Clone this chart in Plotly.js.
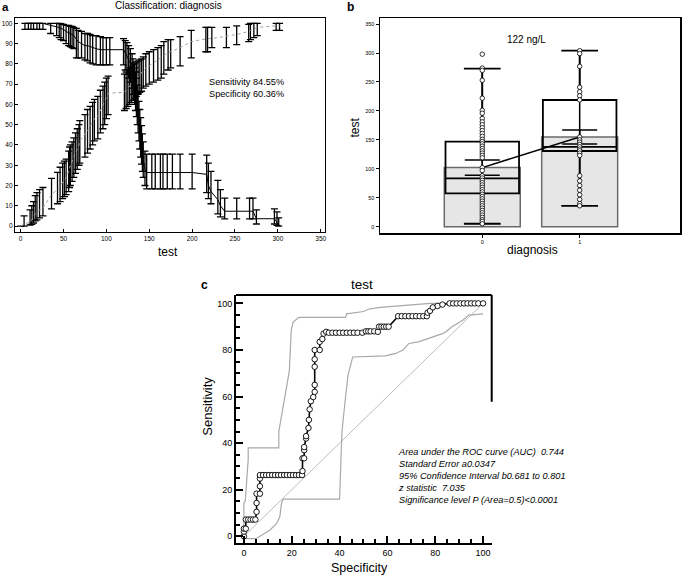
<!DOCTYPE html>
<html><head><meta charset="utf-8">
<script src="https://cdn.plot.ly/plotly-3.0.1.min.js"></script>
<style>html,body{margin:0;padding:0;background:#fff}</style>
</head><body><div id="chart" style="width:685px;height:577px"></div>
<script>
// ---------- Panel a: sensitivity / specificity vs threshold ----------
const sensT  = [5,9,12,15,19,22,26,35,42,45,47,50,53,56,58,60,62,65,67,71,75,78,81,84,88,93,96,100,104,120,122,124,126,128,130,131,132,133,134,135,136,137,138,139,140,141,142,143,145,147,153,157,163,166,171,177,186,200,217,219,222,230,233,238,252,267,271,275,296,299,301];
const sensV  = [100,100,100,100,100,100,100,99,98.5,98,97.5,97,96,95.5,95,94.5,94,92,91,90,89,89,88.5,88,87.5,87,87,87,87,87,85.5,84,82,80,78,75,72,70,67,64,60,56,52,48,44,40,36,32,28,26.4,26.4,26.4,26.4,26.4,26.4,26.4,26.4,26.4,25.5,20,17,13,10,7.3,7.3,7.3,7.3,3.6,3.6,1.8,0];
const sensLo = [97,97,97,97,97,97,97,95,94,93,92,91.5,90,89,88.5,88,87.5,83,83,83,82,81.5,80.5,80,79.5,79.5,79.5,79.5,79.5,79.5,77,75,73,71,68,65,62,60,57,54,50,46,42,38,34,30.5,27,24,20,18.3,18.3,18.3,18.3,18.3,18.3,18.3,18.3,18.3,16.5,13.5,11,6,4.5,3.5,3.5,3.5,3.5,1,1,0.3,0];
const sensHi = [100,100,100,100,100,100,100,100,100,100,99.8,99.5,99,99,98.5,98.5,98,97.5,96.5,96,95,95,94.5,94,94,93.5,93,93,93,92.5,91.5,90.5,89,87.5,85,82.5,80,78,76,73,69.5,65.5,61.5,57.5,53.5,49.5,45.5,41.5,37,35.5,35.5,35.5,35.5,35.5,35.5,35.5,35.5,35.5,35,31,27,22.5,18,13.8,13.8,13.8,13.8,8,8.5,7,4];

const specT  = [0,4,11,13,15,17,19,22,26,36,43,46,49,51,53,56,57,58,60,62,64,66,68,69,75,78,81,84,86,90,93,96,98,100,102,121,123,125,127,129,131,133,135,137,139,141,143,146,150,155,160,164,167,172,175,186,199,216,218,223,240,252,266,268,272,276,298,302];
const specV  = [0,0.9,2,3,5,6,7,8,9,15.5,18,20,22,23,24,27,29,30,32,34,36,38,40,42,45,47,49,51,53,54,57,60,62,64,65.5,66,67,68,69,70,71,72,73,74,75,76,77,78,79,80.5,82,83,84,85.5,86,88,91,92.5,92.5,92.5,93.5,94.5,96,96.5,97,98,98.8,98.8];
const specLo = [0,0,0.5,0.8,1.5,2.5,3,4,5,8.5,11,12,13.5,14.5,15.5,17,19,20,22,24,26,28,30,31,34,36,38,40,42,43,46,48,50,53,55,57,58,59,60,61,62,63,64,65,66,66.5,68,69,70,71,72,73,75,77,78,79,83,86,86,88,88,89.5,91,92,93,94,96.5,96.5];
const specHi = [0,5,8,10,12,15,16.5,18,19,23.5,26.5,29,31,32,33,37,39,40,41.5,43.5,46,48,50,52,55,57.5,59,61,62.5,64,67,69,71,73,74,75,76,77,78,78.5,79.5,80.5,81,81.5,82,82.5,83.5,85,86,87,88,89,91,92,92,93.5,96.5,98,98,98,98,98.8,99.5,100,100,100,100,100];

// ---------- Panel b: box plots by diagnosis ----------
const groups     = [0, 1];
const group0Vals = [298,274,270,253,222,201,196,187,181,176,171,166,161,156,151,147,143,139,135,131,127,123,119,102,97,88,84,80,76,72,68,64,60,56,52,48,44,40,36,32,28,24,20,16,12,9,5];
const group1Vals = [304,299,277,241,233,226,219,155,150,146,142,138,134,131,127,123,88,79,71,63,55,47,40,36];
const boxQ1      = [57.6, 130.7];
const boxMedian  = [83.5, 138];
const boxQ3      = [146.8, 218.8];
const boxLow     = [5, 36];
const boxHigh    = [273, 304];
const meanVals   = [102, 155];
const meanLo     = [89, 143];
const meanHi     = [115, 167];

// ---------- Panel c: ROC curve ----------
const rocX = [0,0,0,0.8,0.8,1.8,2.8,3.8,4.8,5.3,5.3,5.3,6.7,6.7,6.7,6.7,8,9.3,10.5,11.8,13,14.3,15.5,16.8,18,19.3,20.5,21.8,23,24.3,24.5,24.5,25.2,25.2,25.2,26,26,27,27.2,27.5,28,29,29.6,29.6,29.6,29.6,29.6,31.7,31.7,32.8,33.3,34.4,35.5,37,38.5,40,41.5,43,44.5,46,47.5,49.5,51,52,53,54.5,56,56.5,57.5,58.5,59.5,60.5,64.5,66,67.5,69,70.5,72,73.5,75,76.5,76.8,77.8,79,81,83,86,87.5,89,90.5,92,93.5,95,96.5,98,100];
const rocY = [0,2,3.3,3.3,7.2,7.2,7.2,7.2,7.2,10.5,14.3,18.3,18.3,21.5,24.8,26.3,26.3,26.3,26.3,26.3,26.3,26.3,26.3,26.3,26.3,26.3,26.3,26.3,26.3,26.3,28,33.5,33.5,37,38.3,42,43,46.5,50,54.5,58,59.8,62,65,72.8,76,80,80,83.5,84.7,87,87.8,87.4,87.4,87.4,87.4,87.4,87.4,87.4,87.4,87.4,87.4,88,88,88,88,87.8,90,90,90,90,90,94.5,94.5,94.5,94.5,94.5,94.5,94.5,94.5,94.5,96,96.8,98.3,98.9,99.5,100,100,100,100,100,100,100,100,100,100];
const upperX = [0,0,0.6,1.8,1.8,14.6,14.6,16.2,18.3,19,19.8,20.6,22.5,23,42.5,43,50,52,57,70,78,100];
const upperY = [0,14,15.5,33,38,38,45,55,68,71,88.5,92,93.6,94,94,95.5,96.5,97.5,98.3,99.2,100,100];
const lowerX = [0,1,5,6.7,8,10.8,13.6,15,15.7,16.4,40,40.5,41,42,43.5,45.5,59,63.5,66.5,69,73,83,84.5,87,91.5,94,100];
const lowerY = [0,-1,-1,0,1,2.6,5.4,8.3,14,16,16,28,45,55,69,77,77.5,78.5,80,82.8,83.5,87,87.8,90,92.8,95,95.5];
const diagX = [0, 100];
const diagY = [0, 100];

const FONT = 'Liberation Sans, Arial, sans-serif';
const W = 685, H = 577;
const px = v => v / W;
const py = v => 1 - v / H;
const diff = (a, b) => a.map((v, i) => v - b[i]);

const traces = [];
// panel a
traces.push({
  type:'scatter', mode:'lines', x:specT, y:specV, xaxis:'x', yaxis:'y',
  line:{color:'#a0a0a0', width:1, dash:'dot'},
  error_y:{type:'data', symmetric:false, array:diff(specHi, specV), arrayminus:diff(specV, specLo),
           color:'#000', thickness:1.3, width:3.5},
  hoverinfo:'skip'
});
traces.push({
  type:'scatter', mode:'lines', x:sensT, y:sensV, xaxis:'x', yaxis:'y',
  line:{color:'#000', width:1},
  error_y:{type:'data', symmetric:false, array:diff(sensHi, sensV), arrayminus:diff(sensV, sensLo),
           color:'#000', thickness:1.3, width:3.5},
  hoverinfo:'skip'
});
// panel b
traces.push({
  type:'bar', x:groups, y:meanVals, xaxis:'x2', yaxis:'y2', width:0.78,
  marker:{color:'#e6e6e6', line:{color:'#6a6a6a', width:1.5}}, hoverinfo:'skip'
});
traces.push({
  type:'box', x:groups, q1:boxQ1, median:boxMedian, q3:boxQ3, lowerfence:boxLow, upperfence:boxHigh,
  xaxis:'x2', yaxis:'y2', width:0.755, whiskerwidth:0.5, boxpoints:false,
  fillcolor:'rgba(0,0,0,0)', line:{color:'#000', width:1.8}, hoverinfo:'skip'
});
const wx = [], wy = [];
groups.forEach((g, i) => { wx.push(g, g, null); wy.push(boxLow[i], boxHigh[i], null); });
traces.push({type:'scatter', mode:'lines', x:wx, y:wy, xaxis:'x2', yaxis:'y2',
  line:{color:'#000', width:1.5}, hoverinfo:'skip'});
traces.push({
  type:'scatter', mode:'lines', x:groups, y:meanVals, xaxis:'x2', yaxis:'y2',
  line:{color:'#000', width:1.5},
  error_y:{type:'data', symmetric:false, array:diff(meanHi, meanVals), arrayminus:diff(meanVals, meanLo),
           color:'#000', thickness:1.5, width:17.5},
  hoverinfo:'skip'
});
const ptsX = group0Vals.map(() => groups[0]).concat(group1Vals.map(() => groups[1]));
const ptsY = group0Vals.concat(group1Vals);
traces.push({
  type:'scatter', mode:'markers', x:ptsX, y:ptsY, xaxis:'x2', yaxis:'y2',
  marker:{symbol:'circle', size:4.5, color:'#fff', line:{color:'#000', width:0.8}}, hoverinfo:'skip'
});
// panel c
traces.push({type:'scatter', mode:'lines', x:diagX, y:diagY, xaxis:'x3', yaxis:'y3',
  line:{color:'#bdbdbd', width:1}, hoverinfo:'skip'});
traces.push({type:'scatter', mode:'lines', x:upperX, y:upperY, xaxis:'x3', yaxis:'y3',
  line:{color:'#a8a8a8', width:1.2}, hoverinfo:'skip'});
traces.push({type:'scatter', mode:'lines', x:lowerX, y:lowerY, xaxis:'x3', yaxis:'y3',
  line:{color:'#a8a8a8', width:1.2}, hoverinfo:'skip'});
traces.push({type:'scatter', mode:'lines+markers', x:rocX, y:rocY, xaxis:'x3', yaxis:'y3',
  line:{color:'#000', width:1.6},
  marker:{symbol:'circle', size:5.5, color:'#fff', line:{color:'#000', width:0.9}}, hoverinfo:'skip'});

const axBase = {showgrid:false, zeroline:false, showline:true, linecolor:'#000', ticks:'inside',
  tickcolor:'#000', fixedrange:true};

const ann = (text, x, y, size, opts) => Object.assign({
  text, x:px(x), y:py(y), xref:'paper', yref:'paper', showarrow:false,
  xanchor:'center', yanchor:'middle', font:{family:FONT, size, color:'#000'}}, opts || {});

const layout = {
  width:W, height:H, margin:{l:0, r:0, t:0, b:0}, showlegend:false, hovermode:false,
  paper_bgcolor:'#fff', plot_bgcolor:'#fff', font:{family:FONT, color:'#000'},
  xaxis:Object.assign({}, axBase, {domain:[px(15), px(325)], range:[-6.6, 355], anchor:'y',
    tickvals:[0,50,100,150,200,250,300,350], ticklen:3, tickwidth:1, linewidth:1.2, mirror:true,
    tickfont:{size:6.5, color:'#000'}}),
  yaxis:Object.assign({}, axBase, {domain:[py(231.7), py(18.3)], range:[-2.8, 102.5], anchor:'x',
    dtick:10, ticklen:3, tickwidth:1, linewidth:1.2, mirror:true, tickfont:{size:6.5, color:'#000'}}),
  xaxis2:Object.assign({}, axBase, {domain:[px(380), px(680)], range:[-1.05, 2.03], anchor:'y2',
    tickvals:[0,1], ticks:'outside', ticklen:3, tickwidth:1, linewidth:1.5, mirror:true,
    tickfont:{size:5.5, color:'#000'}}),
  yaxis2:Object.assign({}, axBase, {domain:[py(233.3), py(18.3)], range:[-11.5, 360], anchor:'x2',
    dtick:50, ticks:'outside', ticklen:3, tickwidth:1, linewidth:1.5, mirror:true,
    tickfont:{size:5.5, color:'#000'}}),
  xaxis3:Object.assign({}, axBase, {domain:[px(236), px(491.7)], range:[-3.3, 103.6], anchor:'y3',
    dtick:20, tick0:0, ticklen:7, tickwidth:2, linewidth:2, tickfont:{size:9, color:'#000'},
    minor:{dtick:5, tick0:0, ticks:'inside', ticklen:4, tickwidth:2, tickcolor:'#000'}}),
  yaxis3:Object.assign({}, axBase, {domain:[py(543.3), py(295)], range:[-3, 103.6], anchor:'x3',
    dtick:20, tick0:0, ticklen:7, tickwidth:2, linewidth:2, tickfont:{size:9, color:'#000'},
    minor:{dtick:5, tick0:0, ticks:'inside', ticklen:4, tickwidth:2, tickcolor:'#000'}}),
  shapes:[
    {type:'line', xref:'x3 domain', yref:'y3 domain', x0:0, x1:1, y0:1, y1:1, line:{color:'#000', width:2}},
    {type:'line', xref:'x3 domain', yref:'y3 domain', x0:1, x1:1, y0:0.57, y1:1, line:{color:'#000', width:2}}
  ],
  annotations:[
    ann('<b>a</b>', 5, 6.5, 11.5),
    ann('Classification: diagnosis', 168.3, 5.5, 10),
    ann('test', 168, 252, 12),
    ann('Sensitivity 84.55%', 206.7, 82.3, 9.2, {xanchor:'left'}),
    ann('Specificity 60.36%', 206.7, 94.5, 9.2, {xanchor:'left'}),
    ann('<b>b</b>', 350, 7, 12),
    ann('122 ng/L', 526.3, 39.5, 10),
    ann('test', 354, 127.5, 12, {textangle:-90}),
    ann('diagnosis', 532, 250, 12),
    ann('<b>c</b>', 204, 285, 12),
    ann('test', 361.5, 284, 13.5),
    ann('Sensitivity', 208, 406.7, 13, {textangle:-90}),
    ann('Specificity', 359.2, 568, 12.5),
    ann('<i>Area under the ROC curve (AUC)  0.744<br>Standard Error a0.0347<br>95% Confidence Interval b0.681 to 0.801<br>z statistic  7.035<br>Significance level P (Area=0.5)&lt;0.0001</i>',
        396, 445, 9.2, {xanchor:'left', yanchor:'top', align:'left'})
  ]
};

Plotly.newPlot('chart', traces, layout, {staticPlot:true, displayModeBar:false});
</script>
</body></html>
